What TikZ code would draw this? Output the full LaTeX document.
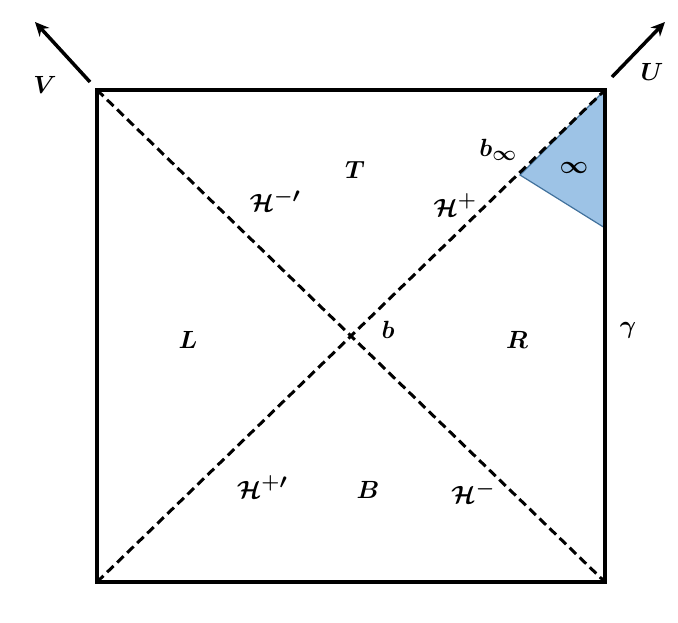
\documentclass[tikz,border=0pt]{standalone}
\usepackage{amsmath,amssymb,bm}
\usetikzlibrary{arrows.meta}
\definecolor{tri}{HTML}{9DC3E6}
\definecolor{trib}{HTML}{41719C}
\begin{document}
\begin{tikzpicture}[x=1pt,y=-1pt,
  lab/.style={inner sep=0pt,font=\fontsize{28}{30}\selectfont},
  big/.style={inner sep=0pt,font=\fontsize{38}{40}\selectfont},
  dia/.style={line width=3pt,dash pattern=on 9pt off 5pt},
  arr/.style={line width=3.5pt,-{Stealth[length=14pt,width=13pt]}}]
\useasboundingbox (0,0) rectangle (678,623);
\coordinate (bl) at (97,582);
\coordinate (br) at (605,582);
\coordinate (tl) at (97,90);
\coordinate (tr) at (605,90);
\coordinate (binf) at (520,175);
\coordinate (rg) at (605,228);
\filldraw[fill=tri,draw=trib,line width=1.2pt] (tr) -- (binf) -- (rg) -- cycle;
\draw[dia] (tl) -- (br);
\draw[dia] (bl) -- (tr);
\draw[line width=4pt] (bl) rectangle (tr);
\coordinate (v0) at (90,82); \coordinate (v1) at (35,22);
\coordinate (u0) at (612,77); \coordinate (u1) at (665,22);
\draw[arr] (v0) -- (v1);
\draw[arr] (u0) -- (u1);
\node[lab] (V) at (45,85) {$\bm{V}$};
\node[lab] (U) at (652,72) {$\bm{U}$};
\node[big] (T) at (355,170) {$\bm{T}$};
\node[big] (L) at (188,340) {$\bm{L}$};
\node[big] (R) at (517,340) {$\bm{R}$};
\node[big] (B) at (368,490) {$\bm{B}$};
\node[lab] (b) at (388,330) {$\bm{b}$};
\node[lab] (bi) at (498,150) {$\bm{b_\infty}$};
\node[big] (inf) at (574,168) {$\bm{\infty}$};
\node[lab] (hm1) at (275,200) {$\bm{\mathcal{H}^{-\prime}}$};
\node[lab] (hp) at (455,205) {$\bm{\mathcal{H}^{+}}$};
\node[lab] (hp1) at (262,487) {$\bm{\mathcal{H}^{+\prime}}$};
\node[lab] (hm) at (473,492) {$\bm{\mathcal{H}^{-}}$};
\node[lab] (g) at (628,330) {$\bm{\gamma}$};
\end{tikzpicture}
\end{document}
